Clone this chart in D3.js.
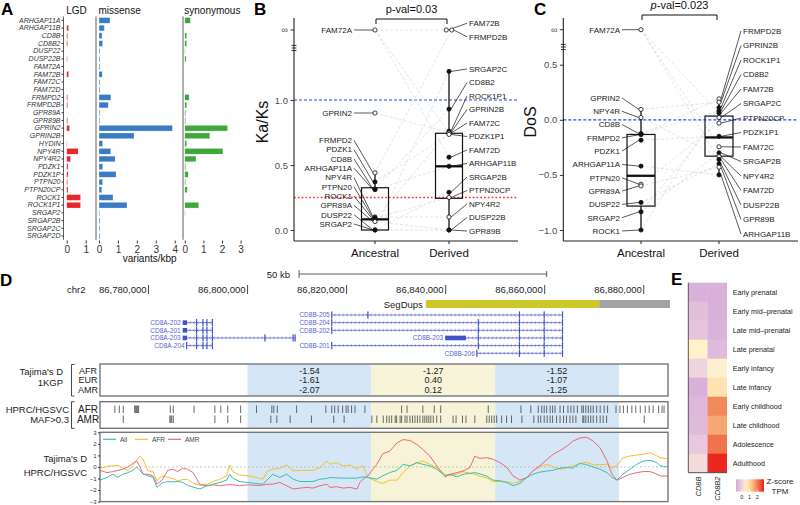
<!DOCTYPE html>
<html><head><meta charset="utf-8">
<script src="https://cdn.jsdelivr.net/npm/d3@7/dist/d3.min.js"></script>
<style>html,body{margin:0;padding:0;background:#fff;}</style>
</head><body>
<svg id="fig" width="800" height="505" xmlns="http://www.w3.org/2000/svg"></svg>
<script>
const FONT = '"Liberation Sans", Arial, Helvetica, sans-serif';

// ================= DATA =================
// Panel A: variant rates (variants/kbp)
const genesA = ["ARHGAP11A","ARHGAP11B","CD8B","CD8B2","DUSP22","DUSP22B","FAM72A","FAM72B","FAM72C","FAM72D","FRMPD2","FRMPD2B","GPR89A","GPR89B","GPRIN2","GPRIN2B","HYDIN","NPY4R","NPY4R2","PDZK1","PDZK1P","PTPN20","PTPN20CP","ROCK1","ROCK1P1","SRGAP2","SRGAP2B","SRGAP2C","SRGAP2D"];
const lgdRate        = [0,0.1,0.05,0.05,0,0.03,0,0.1,0,0,0.05,0.05,0,0.05,0.15,0,0.02,0.6,0.2,0.07,0.07,0.05,0.07,0.73,0.73,0,0,0,0];
const missenseRate   = [0.58,0.28,0.16,0.19,0.05,0.05,0.05,0.17,0.05,0.05,0.63,0.49,0.04,0.04,3.88,1.85,0.19,0.62,0.85,0.2,0.9,0.19,0.15,0.74,1.48,0.03,0.05,0.05,0.05];
const synonymousRate = [0.3,0,0.1,0.1,0.02,0.07,0,0,0,0,0.23,0.1,0.05,0.05,2.3,1.35,0.1,2.05,0.6,0.05,0.18,0.05,0.13,0,0.75,0.02,0,0,0];
const lgdTicks = [0,1], missenseTicks = [0,1,2,3,4], synonymousTicks = [0,1,2,3];

// Panel B: Ka/Ks
const kaksAncGenes  = ["FAM72A","GPRIN2","FRMPD2","PDZK1","CD8B","ARHGAP11A","NPY4R","PTPN20","ROCK1","GPR89A","DUSP22","SRGAP2"];
const kaksAncValues = [Infinity,0.90,0.44,0.37,0.315,0.31,0.10,0.09,0.08,0.065,0,0];
const kaksAncOpen   = [1,1,1,0,0,0,0,0,0,1,0,0];
const kaksDerGenes  = ["FAM72B","FRMPD2B","SRGAP2C","CD8B2","ROCK1P1","GPRIN2B","FAM72C","PDZK1P1","FAM72D","ARHGAP11B","SRGAP2B","PTPN20CP","NPY4R2","DUSP22B","GPR89B"];
const kaksDerValues = [Infinity,Infinity,1.22,0.93,0.76,0.75,0.745,0.735,0.56,0.49,0.29,0.25,0.10,0,0];
const kaksDerOpen   = [1,1,0,0,0,1,1,1,0,0,0,1,1,0,0];
const kaksBoxAnc = [0, 0.082, 0.325, 0, 0.44];   // q1, median, q3, whisker low, whisker high
const kaksBoxDer = [0.244, 0.49, 0.744, 0, 1.22];
const kaksTicks = [0, 0.5, 1.0];
const kaksRefLines = [1.0, 0.25];

// Panel C: DoS
const dosAncGenes  = ["FAM72A","GPRIN2","NPY4R","CD8B","FRMPD2","PDZK1","ARHGAP11A","PTPN20","GPR89A","DUSP22","SRGAP2","ROCK1"];
const dosAncValues = [Infinity,0.094,0.02,-0.125,-0.135,-0.185,-0.42,-0.585,-0.6,-0.75,-0.835,-1.0];
const dosAncOpen   = [1,1,1,0,0,0,0,1,1,0,0,0];
const dosDerGenes  = ["FRMPD2B","GPRIN2B","ROCK1P1","CD8B2","FAM72B","SRGAP2C","PTPN20CP","PDZK1P1","FAM72C","SRGAP2B","NPY4R2","FAM72D","DUSP22B","GPR89B","ARHGAP11B"];
const dosDerValues = [0.19,0.16,0.11,0.08,0.06,0.02,-0.03,-0.15,-0.245,-0.30,-0.335,-0.36,-0.40,-0.43,-0.50];
const dosDerOpen   = [1,1,0,0,0,1,1,0,1,0,1,0,0,1,0];
const dosBoxAnc = [-0.783, -0.508, -0.133, -1.0, 0.094];
const dosBoxDer = [-0.33, -0.16, 0.034, -0.50, 0.19];
const dosTicks = [-1.0, -0.5, 0.0, 0.5];

const paralogPairs = [["FAM72A","FAM72B"],["FAM72A","FAM72C"],["FAM72A","FAM72D"],["GPRIN2","GPRIN2B"],["FRMPD2","FRMPD2B"],["PDZK1","PDZK1P1"],["CD8B","CD8B2"],["ARHGAP11A","ARHGAP11B"],["NPY4R","NPY4R2"],["PTPN20","PTPN20CP"],["ROCK1","ROCK1P1"],["GPR89A","GPR89B"],["DUSP22","DUSP22B"],["SRGAP2","SRGAP2B"],["SRGAP2","SRGAP2C"]];

// Panel D: genomic region (kb on chr2)
const regionKb = [86770.2, 86884.9];
const coordTicksKb = [86780, 86800, 86820, 86840, 86860, 86880];
const scaleBarKb = [86810.4, 86860.4];
const segDups = [[86836.0, 86871.0, "#cdc82a"], [86871.0, 86885.3, "#a3a3a3"]];
const transcripts = [
  {name:"CD8A-202", row:1, start:86786.9, end:86792.9, thick:[86786.9,86787.8], exons:[86789.7,86791.0,86791.8,86792.9]},
  {name:"CD8A-201", row:2, start:86786.9, end:86792.9, thick:[86786.9,86787.8], exons:[86789.7,86791.0,86791.8,86792.9]},
  {name:"CD8A-203", row:3, start:86786.9, end:86809.6, thick:[86786.9,86787.8], exons:[86789.7,86791.0,86791.8,86792.9,86803.5,86809.2,86809.6]},
  {name:"CD8A-204", row:4, start:86787.7, end:86792.9, thick:null, exons:[86787.7,86789.7,86791.0,86791.8,86792.9]},
  {name:"CD8B-205", row:0, start:86817.0, end:86863.6, thick:null, exons:[86817.0,86824.3,86854.9,86859.9,86863.6]},
  {name:"CD8B-204", row:1, start:86817.0, end:86863.6, thick:null, exons:[86817.0,86846.6,86854.9,86859.9,86863.6]},
  {name:"CD8B-202", row:2, start:86817.0, end:86863.6, thick:null, exons:[86817.0,86846.6,86854.9,86859.9,86863.6]},
  {name:"CD8B-203", row:3, start:86839.9, end:86863.6, thick:[86839.9,86844.1], exons:[86846.6,86854.9,86859.9,86863.6]},
  {name:"CD8B-201", row:4, start:86817.0, end:86863.6, thick:null, exons:[86817.0,86846.6,86854.9,86859.9,86863.6]},
  {name:"CD8B-206", row:5, start:86846.3, end:86863.6, thick:null, exons:[86846.3,86854.9,86859.9,86863.6]}
];
const windowsKb = [[86800, 86825], [86825, 86850], [86850, 86875]];
const windowColors = ["#d5e6f6", "#f6f3d9", "#d5e6f6"];
const kgpPops = ["AFR","EUR","AMR"];
const kgpTajimaAFR = [-1.54, -1.27, -1.52];
const kgpTajimaEUR = [-1.61, 0.40, -1.07];
const kgpTajimaAMR = [-2.07, 0.12, -1.25];
const hprcAFR = [86773.2,86774.1,86774.9,86777.2,86777.4,86777.6,86777.8,86778.0,86784.4,86785.0,86789.2,86793.4,86794.6,86796.0,86798.6,86801.8,86804.9,86805.3,86806.0,86809.9,86815.8,86817.0,86817.6,86818.3,86819.2,86819.9,86820.3,86821.0,86821.7,86823.7,86831.1,86832.2,86835.4,86837.7,86839.0,86848.6,86855.2,86857.2,86858.7,86859.4,86859.9,86860.4,86861.1,86861.6,86862.1,86863.1,86863.8,86864.7,86865.3,86865.9,86866.6,86867.5,86867.8,86868.3,86868.8,86869.3,86869.8,86870.5,86871.2,86872.0,86872.7,86874.4,86875.2,86875.9,86876.7,86877.6,86878.4,86879.3,86880.3,86881.1,86881.9,86883.0,86883.7,86884.1];
const hprcAMR = [86774.9,86784.3,86784.5,86784.7,86785.0,86793.4,86796.0,86798.6,86804.7,86805.9,86808.6,86812.9,86817.4,86819.5,86825.1,86826.1,86827.4,86828.1,86828.6,86829.1,86829.8,86830.1,86830.8,86831.1,86831.8,86832.2,86832.8,86833.3,86833.8,86834.3,86834.8,86835.4,86835.8,86836.2,86836.6,86837.0,86837.5,86838.2,86839.0,86841.5,86842.1,86843.4,86844.1,86845.9,86848.3,86848.8,86849.3,86849.8,86850.3,86851.3,86852.3,86853.3,86855.4,86857.8,86858.7,86859.2,86859.9,86860.5,86861.1,86861.6,86862.4,86863.1,86863.8,86864.4,86865.1,86865.7,86866.3,86867.7,86867.9,86868.3,86868.8,86869.3,86869.8,86870.5,86871.2,86871.8,86872.5,86880.1];
const tajPosKb = [86770.2,86771.6,86772.8,86773.8,86774.8,86775.8,86776.8,86777.6,86778.2,86778.9,86779.9,86780.9,86781.7,86782.7,86783.9,86784.9,86785.9,86786.9,86787.9,86789.0,86790.4,86791.8,86793.0,86794.4,86795.8,86796.4,86797.0,86798.4,86800.1,86801.9,86803.1,86803.9,86805.1,86806.5,86807.9,86809.2,86810.6,86812.0,86813.2,86814.6,86816.0,86816.6,86818.0,86819.3,86820.7,86822.1,86822.7,86823.3,86824.3,86826.1,86827.3,86828.7,86830.2,86831.4,86832.8,86834.2,86835.4,86836.8,86838.2,86839.9,86840.9,86842.3,86843.5,86844.9,86845.9,86846.9,86848.3,86849.6,86851.0,86852.4,86853.6,86855.0,86856.4,86857.6,86859.0,86860.5,86861.7,86863.1,86864.5,86865.7,86867.1,86868.5,86869.8,86871.2,86872.6,86873.6,86874.6,86875.8,86877.2,86878.6,86879.9,86881.3,86882.7,86883.3,86884.9];
const tajAFR = [-0.11,0.05,0.09,0.14,-0.1,-0.34,0.09,0.6,0.94,0.66,-0.34,-0.4,-1.2,-0.77,-0.91,-1.0,-1.2,-1.1,-1.06,-1.43,-1.57,-1.49,-1.26,-1.06,-0.77,0.17,-0.4,-0.69,-0.77,-0.91,-1.06,-0.4,-0.2,-0.11,0.17,-0.34,-0.3,-0.3,-0.3,-0.06,0.51,0.23,0.37,0.09,0.17,-0.2,0.0,0.09,-0.91,-1.26,-1.43,-1.14,-1.14,-0.49,0.09,0.37,0.51,0.23,-0.06,-0.63,-0.77,-0.63,-0.4,-0.55,-0.63,-0.8,-0.95,-1.26,-1.26,-1.3,-1.43,-1.26,-0.91,-0.34,0.0,0.23,0.0,-0.2,-0.06,0.1,0.3,0.4,0.2,0.2,0.23,-0.06,0.09,0.8,0.94,1.03,1.09,1.23,0.94,0.8,0.7];
const tajAMR = [-0.29,-0.49,-0.4,-0.3,-0.2,0.0,0.3,0.51,0.09,-0.63,-0.63,-0.77,-1.49,-1.14,-0.29,-0.2,-0.4,-0.11,-0.2,-0.49,-1.54,-1.63,-1.54,-1.63,-1.54,-1.54,-1.54,-1.63,-1.54,-1.6,-1.57,-1.5,-1.49,-1.34,-1.63,-1.91,-1.83,-1.77,-1.83,-1.63,-1.49,-1.77,-1.71,-1.83,-1.77,-1.91,-1.34,-1.06,-0.77,0.23,1.14,1.37,2.09,2.37,2.29,1.94,1.51,0.94,0.09,-0.86,-0.63,-0.49,-0.34,-0.06,0.94,0.74,0.8,0.66,0.37,-0.06,-0.77,-1.14,-0.91,-0.34,0.09,0.66,1.09,1.43,1.8,2.23,2.51,2.57,2.23,1.66,0.51,-0.63,-1.14,-0.91,-0.63,-0.49,-0.4,-0.4,-0.63,-0.77,-0.8];
const tajAll = [-1.14,-0.91,-0.63,-0.91,-0.63,-0.5,-0.3,0.0,-0.29,-0.6,-0.77,-0.9,-1.77,-1.4,-1.26,-1.3,-1.26,-1.34,-1.6,-1.75,-1.91,-1.63,-1.49,-1.34,-1.14,-0.63,-0.97,-1.26,-1.34,-1.45,-1.49,-1.14,-0.63,-0.91,-0.63,-1.06,-1.26,-1.26,-1.26,-1.06,-1.0,-0.91,-0.95,-0.97,-0.97,-0.97,-0.9,-0.86,-0.91,-1.06,-0.77,-0.49,-0.29,0.23,0.09,0.37,0.23,0.09,-0.2,-0.77,-0.63,-0.86,-0.63,-0.55,-0.49,-0.6,-0.8,-1.14,-1.2,-1.35,-1.63,-1.43,-0.91,-0.63,-0.45,-0.35,-0.29,-0.1,-0.05,-0.1,0.3,0.2,0.0,-0.2,-0.49,-0.9,-1.14,-0.63,-0.2,0.23,0.51,0.57,0.37,0.09,0.0];
const tajTicks = [-3,-2,-1,0,1,2,3];

// Panel E: expression z-scores
const stages = ["Early prenatal","Early mid–prenatal","Late mid–prenatal","Late prenatal","Early infancy","Late infancy","Early childhood","Late childhood","Adolescence","Adulthood"];
const exprGenes = ["CD8B","CD8B2"];
const zCD8B  = [-0.6,-0.3,-0.2,0.55,0.05,-0.6,-0.45,-0.4,-0.15,0.15];
const zCD8B2 = [-0.6,-0.6,-0.55,-0.4,0.45,0.85,1.9,1.6,2.1,2.8];
const zLegendTicks = [0,1,2];

// ================= DRAW =================
const svg = d3.select("#fig").attr("font-family", FONT);
svg.append("rect").attr("width",800).attr("height",505).attr("fill","#fff");

function letter(t,x,y){ svg.append("text").attr("x",x).attr("y",y).attr("font-size",17).attr("font-weight","bold").attr("fill","#000").text(t); }
letter("A",1,15); letter("B",254,15); letter("C",534,15); letter("D",0,286); letter("E",671,285);

// ---------- Panel A ----------
(function(){
  const g = svg.append("g");
  const yA = d3.scaleBand().domain(genesA).range([16.5,239.8]).paddingInner(0.25).paddingOuter(0.125);
  const subs = [
    {title:"LGD", vals:lgdRate, x:d3.scaleLinear().domain([0,1]).range([66.7,85.7]), axisX:63.5, color:"#e8262b", ticks:lgdTicks},
    {title:"missense", vals:missenseRate, x:d3.scaleLinear().domain([0,4]).range([99,174.7]), axisX:96, color:"#3a7cc3", ticks:missenseTicks},
    {title:"synonymous", vals:synonymousRate, x:d3.scaleLinear().domain([0,3]).range([184.8,240.6]), axisX:183, color:"#3da93d", ticks:synonymousTicks}
  ];
  subs.forEach(s => {
    g.selectAll(null).data(genesA).enter().append("rect")
      .attr("x", s.x(0)).attr("y", d => yA(d))
      .attr("width", (d,i) => Math.max(0, s.x(s.vals[i]) - s.x(0)))
      .attr("height", yA.bandwidth())
      .attr("fill", s.color).attr("stroke","#fff").attr("stroke-width",0.3);
    g.append("line").attr("x1",s.axisX).attr("x2",s.axisX).attr("y1",16.5).attr("y2",239.8).attr("stroke","#333").attr("stroke-width",0.8);
    const ax = g.append("g").attr("transform","translate(0,240.5)")
      .call(d3.axisBottom(s.x).tickValues(s.ticks).tickFormat(d3.format("d")).tickSize(3).tickPadding(2));
    ax.select(".domain").remove();
    ax.selectAll("line").attr("stroke","#333");
    ax.selectAll("text").attr("font-size",10).attr("fill","#333").attr("font-family",FONT);
    g.append("text").attr("x", s.x(0)-0.5).attr("y",13.5).attr("font-size",10).attr("fill","#111").text(s.title);
  });
  const ay = g.append("g").attr("transform","translate(63.5,0)")
    .call(d3.axisLeft(yA).tickSize(2).tickSizeOuter(0).tickPadding(1));
  ay.select(".domain").remove();
  ay.selectAll("line").attr("stroke","#333");
  ay.selectAll("text").attr("font-size",7).attr("font-style","italic").attr("fill","#333").attr("font-family",FONT);
  g.append("text").attr("x",149.7).attr("y",262).attr("text-anchor","middle").attr("font-size",10).attr("fill","#111").text("variants/kbp");
})();

// ---------- Panels B & C ----------
function repel(items, gap, lo, hi){
  items.forEach(d => d.ly = Math.max(lo, Math.min(hi, d.py)));
  for (let it=0; it<800; it++){
    items.sort((a,b) => (a.ly - b.ly) || (a.order - b.order));
    let moved = false;
    for (let i=0;i<items.length-1;i++){
      const a = items[i], b = items[i+1], dd = b.ly - a.ly;
      if (dd < gap - 1e-6){ const s = (gap-dd)/2; a.ly -= s; b.ly += s; moved = true; }
    }
    items.forEach(d => d.ly = Math.max(lo, Math.min(hi, d.ly)));
    if (!moved) break;
  }
}

function drawStrip(c){
  const g = svg.append("g");
  const x = d3.scalePoint().domain(["Ancestral","Derived"]).range([c.xAnc, c.xDer]);
  const yv = v => v === Infinity ? c.yInf : c.y(v);

  c.hlines.forEach(h => g.append("line").attr("x1",c.axisX).attr("x2",c.xRight)
    .attr("y1",c.y(h.v)).attr("y2",c.y(h.v)).attr("stroke",h.color).attr("stroke-width",h.w).attr("stroke-dasharray",h.dash));

  const sides = [
    {cat:"Ancestral", genes:c.anc[0], vals:c.anc[1], open:c.anc[2], labelX:c.labAnc, anchor:"end", gap:c.gapAnc, lo:c.boundsAnc[0], hi:c.boundsAnc[1]},
    {cat:"Derived", genes:c.der[0], vals:c.der[1], open:c.der[2], labelX:c.labDer, anchor:"start", gap:c.gapDer, lo:c.boundsDer[0], hi:c.boundsDer[1]}
  ];
  sides.forEach(s => {
    const infIdx = s.vals.map((v,i)=>v===Infinity?i:-1).filter(i=>i>=0);
    s.items = s.genes.map((gn,i) => {
      const k = infIdx.indexOf(i);
      const dx = k >= 0 ? (k - (infIdx.length-1)/2) * 5.5 : 0;
      return {gene:gn, v:s.vals[i], open:s.open[i], order:i, px:x(s.cat)+dx, py:yv(s.vals[i])};
    });
  });
  const pos = new Map();
  sides.forEach(s => s.items.forEach(d => pos.set(d.gene, d)));

  paralogPairs.forEach(([a,b]) => {
    const pa = pos.get(a), pb = pos.get(b);
    if (pa && pb) g.append("line").attr("x1",pa.px).attr("y1",pa.py).attr("x2",pb.px).attr("y2",pb.py)
      .attr("stroke","#d6d6d6").attr("stroke-width",0.65).attr("stroke-dasharray","3,2");
  });

  [["Ancestral",c.boxAnc],["Derived",c.boxDer]].forEach(([cat,b]) => {
    const cx = x(cat), hw = c.boxW/2;
    g.append("line").attr("x1",cx).attr("x2",cx).attr("y1",c.y(b[4])).attr("y2",c.y(b[2])).attr("stroke","#111").attr("stroke-width",1.3);
    g.append("line").attr("x1",cx).attr("x2",cx).attr("y1",c.y(b[0])).attr("y2",c.y(b[3])).attr("stroke","#111").attr("stroke-width",1.3);
    g.append("rect").attr("x",cx-hw).attr("y",c.y(b[2])).attr("width",2*hw).attr("height",c.y(b[0])-c.y(b[2]))
      .attr("fill","none").attr("stroke","#111").attr("stroke-width",1.2);
    g.append("line").attr("x1",cx-hw).attr("x2",cx+hw).attr("y1",c.y(b[1])).attr("y2",c.y(b[1])).attr("stroke","#111").attr("stroke-width",2.3);
  });

  sides.forEach(s => {
    repel(s.items, s.gap, s.lo, s.hi);
    const left = s.anchor === "end";
    s.items.forEach(d => {
      g.append("line").attr("x1", s.labelX + (left?2:-2)).attr("y1", d.ly)
        .attr("x2", d.px + (left?-2:2)).attr("y2", d.py).attr("stroke","#111").attr("stroke-width",0.7);
    });
    s.items.forEach(d => {
      g.append("circle").attr("cx",d.px).attr("cy",d.py).attr("r",2.1)
        .attr("fill", d.open ? "#fff" : "#111").attr("stroke","#111").attr("stroke-width",0.8);
    });
    s.items.forEach(d => {
      g.append("text").attr("x",s.labelX).attr("y",d.ly).attr("dy","0.35em").attr("text-anchor",s.anchor)
        .attr("font-size",8).attr("fill","#222").text(d.gene);
    });
  });

  const ax = g.append("g").attr("transform",`translate(${c.axisX},0)`)
    .call(d3.axisLeft(c.y).tickValues(c.ticks).tickFormat(d3.format(".1f")).tickSize(3.5).tickPadding(2.5));
  ax.select(".domain").remove();
  ax.selectAll("line").attr("stroke","#333");
  ax.selectAll("text").attr("font-size",9.5).attr("fill","#4d4d4d").attr("font-family",FONT);
  g.append("line").attr("x1",c.axisX-3.5).attr("x2",c.axisX).attr("y1",c.yInf).attr("y2",c.yInf).attr("stroke","#333");
  g.append("text").attr("x",c.axisX-6).attr("y",c.yInf).attr("dy","0.35em").attr("text-anchor","end").attr("font-size",9).attr("fill","#4d4d4d").text("∞");
  g.append("line").attr("x1",c.axisX).attr("x2",c.axisX).attr("y1",c.axisTop).attr("y2",c.axisBottom).attr("stroke","#222").attr("stroke-width",1.1);
  [-2.6,0,2.6].forEach(o => g.append("line").attr("x1",c.axisX-2.5).attr("x2",c.axisX+2.5)
    .attr("y1",c.breakY+o).attr("y2",c.breakY+o).attr("stroke","#222").attr("stroke-width",0.9));
  g.append("text").attr("transform",`translate(${c.ylabX},${c.ylabY}) rotate(-90)`).attr("text-anchor","middle")
    .attr("font-size",16).attr("fill","#111").text(c.ylabel);

  g.append("line").attr("x1",c.axisX).attr("x2",c.xRight).attr("y1",c.axisBottom).attr("y2",c.axisBottom).attr("stroke","#222").attr("stroke-width",1.1);
  x.domain().forEach(cat => {
    g.append("line").attr("x1",x(cat)).attr("x2",x(cat)).attr("y1",c.axisBottom).attr("y2",c.axisBottom+3).attr("stroke","#222");
    g.append("text").attr("x",x(cat)).attr("y",c.axisBottom+16).attr("text-anchor","middle").attr("font-size",11.5).attr("fill","#111").text(cat);
  });

  const bx1 = x("Ancestral")+1, bx2 = x("Derived")-2;
  g.append("path").attr("d",`M${bx1},${c.bracketY+5}V${c.bracketY}H${bx2}V${c.bracketY+5}`).attr("fill","none").attr("stroke","#111").attr("stroke-width",1);
  const t = g.append("text").attr("x",(bx1+bx2)/2).attr("y",c.bracketY-6).attr("text-anchor","middle").attr("font-size",11).attr("fill","#111");
  if (c.pItalic){ t.append("tspan").attr("font-style","italic").text("p"); t.append("tspan").text(c.pText); }
  else t.text(c.pText);
}

drawStrip({
  xAnc:375, xDer:449, y:d3.scaleLinear().domain([0,1]).range([230,100]), yInf:30,
  axisX:294, axisTop:18, axisBottom:241, xRight:518, breakY:48, ticks:kaksTicks,
  hlines:[{v:kaksRefLines[0], color:"#2b45d8", w:1.2, dash:"3,2"},{v:kaksRefLines[1], color:"#ff3333", w:1.6, dash:"1.8,2"}],
  anc:[kaksAncGenes,kaksAncValues,kaksAncOpen], der:[kaksDerGenes,kaksDerValues,kaksDerOpen],
  boxAnc:kaksBoxAnc, boxDer:kaksBoxDer, boxW:27,
  labAnc:352, labDer:469, gapAnc:9.3, gapDer:13.5, boundsAnc:[22,224], boundsDer:[22,231],
  ylabel:"Ka/Ks", ylabX:268, ylabY:122, pText:"p-val=0.03", pItalic:false, bracketY:19
});
drawStrip({
  xAnc:641, xDer:719, y:d3.scaleLinear().domain([-1,0.5]).range([230,64.7]), yInf:29.7,
  axisX:563.3, axisTop:18, axisBottom:241, xRight:798, breakY:47, ticks:dosTicks,
  hlines:[{v:0, color:"#2b45d8", w:1.2, dash:"3,2"}],
  anc:[dosAncGenes,dosAncValues,dosAncOpen], der:[dosDerGenes,dosDerValues,dosDerOpen],
  boxAnc:dosBoxAnc, boxDer:dosBoxDer, boxW:28,
  labAnc:620, labDer:743, gapAnc:13.3, gapDer:14.5, boundsAnc:[22,231], boundsDer:[28,234],
  ylabel:"DoS", ylabX:536, ylabY:122, pText:"-val=0.023", pItalic:true, bracketY:15
});

// ---------- Panel D ----------
(function(){
  const g = svg.append("g");
  const kb = d3.scaleLinear().domain(regionKb).range([100,668]);
  const sb1 = kb(scaleBarKb[0]), sb2 = kb(scaleBarKb[1]);
  g.append("line").attr("x1",sb1).attr("x2",sb2).attr("y1",274).attr("y2",274).attr("stroke","#333").attr("stroke-width",0.8);
  g.append("line").attr("x1",sb1).attr("x2",sb1).attr("y1",270).attr("y2",278).attr("stroke","#333").attr("stroke-width",0.8);
  g.append("line").attr("x1",sb2).attr("x2",sb2).attr("y1",271).attr("y2",277).attr("stroke","#333").attr("stroke-width",0.8);
  g.append("text").attr("x",sb1-9).attr("y",277.5).attr("text-anchor","end").attr("font-size",9.5).attr("fill","#222").text("50 kb");
  g.append("text").attr("x",67).attr("y",293).attr("font-size",9.5).attr("fill","#222").text("chr2");
  coordTicksKb.forEach(k => {
    g.append("text").attr("x",kb(k)-2).attr("y",293).attr("text-anchor","end").attr("font-size",9.5).attr("fill","#222")
      .text(d3.format(",")(Math.round(k*1000)));
    g.append("line").attr("x1",kb(k)).attr("x2",kb(k)).attr("y1",285).attr("y2",294).attr("stroke","#333").attr("stroke-width",0.9);
  });
  g.append("text").attr("x",kb(segDups[0][0])-3).attr("y",307.5).attr("text-anchor","end").attr("font-size",9.5).attr("fill","#222").text("SegDups");
  segDups.forEach(s => g.append("rect").attr("x",kb(s[0])).attr("y",300).attr("width",kb(s[1])-kb(s[0])).attr("height",8).attr("fill",s[2]));
  const tc = "#4252c8";
  transcripts.forEach(t => {
    const y = 315 + t.row*7.65, x1 = kb(t.start), x2 = kb(t.end);
    g.append("line").attr("x1",x1).attr("x2",x2).attr("y1",y).attr("y2",y).attr("stroke",tc).attr("stroke-width",0.7);
    let p = "";
    for (let xx = x1+3; xx < x2-1.5; xx += 4) p += `M${xx+1},${y-1.3}L${xx-0.4},${y}L${xx+1},${y+1.3}`;
    g.append("path").attr("d",p).attr("fill","none").attr("stroke",tc).attr("stroke-width",0.5);
    t.exons.forEach(e => g.append("rect").attr("x",kb(e)-0.6).attr("y",y-3.6).attr("width",1.2).attr("height",7.2).attr("fill",tc));
    if (t.thick) g.append("rect").attr("x",kb(t.thick[0])).attr("y",y-2.3).attr("width",kb(t.thick[1])-kb(t.thick[0])).attr("height",4.6).attr("fill",tc);
    g.append("text").attr("x",x1-2).attr("y",y).attr("dy","0.35em").attr("text-anchor","end").attr("font-size",6.5).attr("fill","#5567d2").text(t.name);
  });

  function windowsIn(y0,y1){
    windowsKb.forEach((w,i) => g.append("rect").attr("x",kb(w[0])).attr("y",y0).attr("width",kb(w[1])-kb(w[0])).attr("height",y1-y0).attr("fill",windowColors[i]));
  }
  function frame(y0,y1){
    g.append("rect").attr("x",100).attr("y",y0).attr("width",568).attr("height",y1-y0).attr("fill","none").attr("stroke","#777").attr("stroke-width",1.4);
  }
  function bracket(y0,y1){
    g.append("path").attr("d",`M74.5,${y0}H71.5V${y1}H74.5`).attr("fill","none").attr("stroke","#333").attr("stroke-width",0.9);
  }
  // 1KGP box
  windowsIn(364,396);
  const rows = [kgpTajimaAFR,kgpTajimaEUR,kgpTajimaAMR];
  rows.forEach((r,ri) => r.forEach((v,wi) => {
    const w = windowsKb[wi];
    g.append("text").attr("x",kb((w[0]+w[1])/2)).attr("y",373.5+ri*9.5).attr("text-anchor","middle").attr("font-size",9).attr("fill","#222").text(d3.format(".2f")(v).replace("−","-"));
  }));
  frame(364,396); bracket(364.5,396);
  kgpPops.forEach((p,i) => g.append("text").attr("x",88).attr("y",373.5+i*9.5).attr("text-anchor","middle").attr("font-size",9).attr("fill","#222").text(p));
  g.append("text").attr("x",63).attr("y",374.5).attr("text-anchor","end").attr("font-size",9.5).attr("fill","#222").text("Tajima's D");
  g.append("text").attr("x",63).attr("y",385.5).attr("text-anchor","end").attr("font-size",9.5).attr("fill","#222").text("1KGP");

  // HPRC box
  windowsIn(401.7,428.3);
  [[hprcAFR,405.5],[hprcAMR,415.5]].forEach(([arr,y0]) => arr.forEach(k =>
    g.append("line").attr("x1",kb(k)).attr("x2",kb(k)).attr("y1",y0).attr("y2",y0+7.5).attr("stroke","#444").attr("stroke-width",0.8)));
  frame(401.7,428.3); bracket(401.7,428.3);
  g.append("text").attr("x",88).attr("y",412.5).attr("text-anchor","middle").attr("font-size",10).attr("fill","#222").text("AFR");
  g.append("text").attr("x",88).attr("y",422.5).attr("text-anchor","middle").attr("font-size",10).attr("fill","#222").text("AMR");
  g.append("text").attr("x",69).attr("y",412.5).attr("text-anchor","end").attr("font-size",9.5).attr("fill","#222").text("HPRC/HGSVC");
  g.append("text").attr("x",69).attr("y",422.5).attr("text-anchor","end").attr("font-size",9.5).attr("fill","#222").text("MAF>0.3");

  // Tajima line chart
  const yT = d3.scaleLinear().domain([-3,3]).range([501.6,432.3]);
  windowsIn(432.3,501.6);
  g.append("line").attr("x1",100).attr("x2",668).attr("y1",yT(0)).attr("y2",yT(0)).attr("stroke","#aaa").attr("stroke-width",0.6).attr("stroke-dasharray","2,2");
  const series = [[tajAFR,"#f3c02c"],[tajAMR,"#ef6670"],[tajAll,"#38c0b2"]];
  const line = d3.line().x((d,i)=>kb(tajPosKb[i])).y(d=>yT(d));
  series.forEach(([vals,col]) => g.append("path").attr("d",line(vals)).attr("fill","none").attr("stroke",col).attr("stroke-width",1));
  frame(432.3,501.6);
  const ax = g.append("g").attr("transform","translate(100,0)").call(d3.axisLeft(yT).tickValues(tajTicks).tickFormat(d3.format("d")).tickSize(2).tickPadding(1.5));
  ax.select(".domain").remove();
  ax.selectAll("line").attr("stroke","#333");
  ax.selectAll("text").attr("font-size",6).attr("fill","#333").attr("font-family",FONT);
  [["All","#38c0b2",103],["AFR","#f3c02c",135],["AMR","#ef6670",168]].forEach(([n,col,x0]) => {
    g.append("line").attr("x1",x0).attr("x2",x0+13).attr("y1",439.3).attr("y2",439.3).attr("stroke",col).attr("stroke-width",1.2);
    g.append("text").attr("x",x0+17).attr("y",441.6).attr("font-size",6.5).attr("fill","#444").text(n);
  });
  g.append("text").attr("x",87).attr("y",461.8).attr("text-anchor","end").attr("font-size",9.5).attr("fill","#222").text("Tajima's D");
  g.append("text").attr("x",87).attr("y",476).attr("text-anchor","end").attr("font-size",9.5).attr("fill","#222").text("HPRC/HGSVC");
})();

// ---------- Panel E ----------
(function(){
  const g = svg.append("g");
  const xE = d3.scaleBand().domain(exprGenes).range([688.3,726.7]);
  const yE = d3.scaleBand().domain(stages).range([282.7,472.7]);
  const col = d3.scaleLinear().domain([-0.73,0,0.5,1.2,2.0,2.86])
    .range(["#d4a9d8","#ecd0df","#fff4cc","#fdcf92","#f17e55","#e8201c"]).clamp(true);
  const zs = {CD8B:zCD8B, CD8B2:zCD8B2};
  exprGenes.forEach(gn => stages.forEach((st,i) => {
    g.append("rect").attr("x",xE(gn)).attr("y",yE(st)).attr("width",xE.bandwidth()+0.3).attr("height",yE.bandwidth()+0.3).attr("fill",col(zs[gn][i]));
  }));
  g.append("path").attr("d","M688.3,282.7V472.7H726.7").attr("fill","none").attr("stroke","#555").attr("stroke-width",1);
  stages.forEach(st => g.append("text").attr("x",732.7).attr("y",yE(st)+yE.bandwidth()/2).attr("dy","0.35em").attr("font-size",7.2).attr("fill","#222").text(st));
  exprGenes.forEach(gn => g.append("text").attr("transform",`translate(${xE(gn)+xE.bandwidth()/2+3},476.5) rotate(-90)`)
    .attr("text-anchor","end").attr("font-size",7.5).attr("font-style","italic").attr("fill","#222").text(gn));
  const lx = d3.scaleLinear().domain([-0.73,2.86]).range([736,764]);
  const grad = svg.append("defs").append("linearGradient").attr("id","zgrad").attr("x1","0%").attr("x2","100%");
  d3.range(0,1.0001,0.1).forEach(t => grad.append("stop").attr("offset",(t*100)+"%").attr("stop-color",col(-0.73 + t*(2.86+0.73))));
  g.append("rect").attr("x",736).attr("y",479.3).attr("width",28).attr("height",12.4).attr("fill","url(#zgrad)");
  zLegendTicks.forEach(tk => {
    g.append("line").attr("x1",lx(tk)).attr("x2",lx(tk)).attr("y1",489.5).attr("y2",491.7).attr("stroke","#fff").attr("stroke-width",0.6);
    g.append("text").attr("x",lx(tk)).attr("y",498.5).attr("text-anchor","middle").attr("font-size",5.5).attr("fill","#222").text(tk);
  });
  g.append("text").attr("x",780).attr("y",483.5).attr("text-anchor","middle").attr("font-size",8).attr("fill","#222").text("Z-score");
  g.append("text").attr("x",780).attr("y",494).attr("text-anchor","middle").attr("font-size",8).attr("fill","#222").text("TPM");
})();
</script>
</body></html>
